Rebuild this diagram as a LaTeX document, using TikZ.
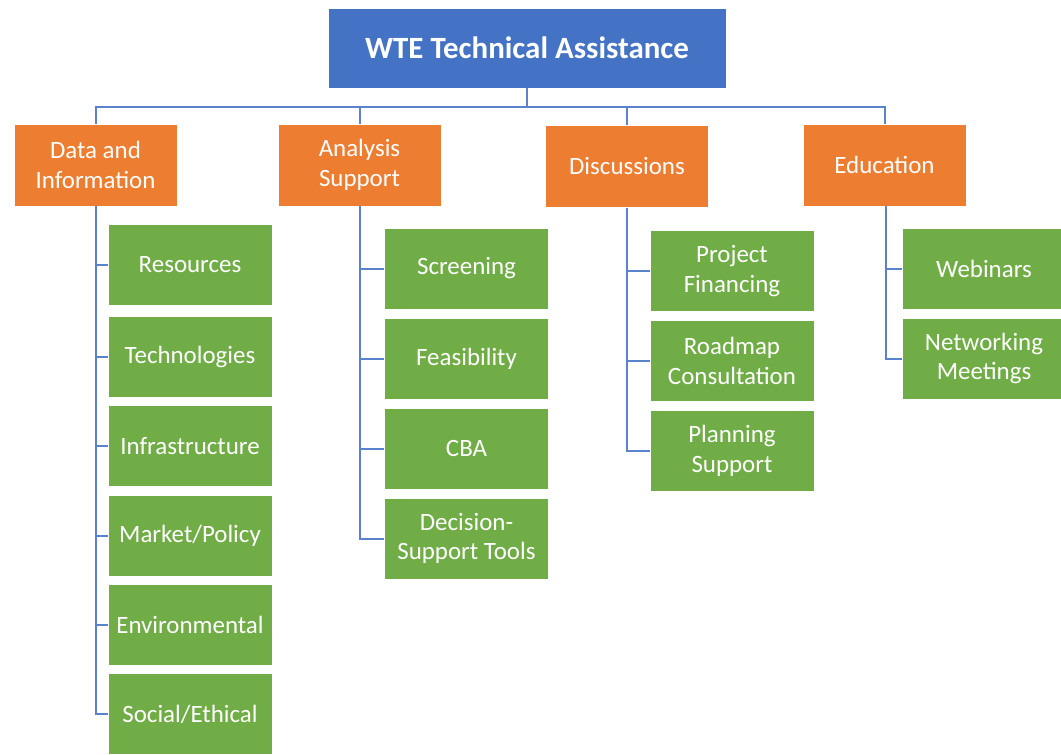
\documentclass[tikz,border=0pt]{standalone}
\usepackage{fontspec}
\setmainfont{Carlito}
\definecolor{topblue}{HTML}{4472C4}
\definecolor{orangebox}{HTML}{ED7D31}
\definecolor{greenbox}{HTML}{70AD47}
\definecolor{linkblue}{HTML}{5B82CC}
\begin{document}
\begin{tikzpicture}[x=0.75pt,y=-0.75pt,
  topbox/.style={fill=topblue,draw=white,line width=0.5pt,text=white,
    minimum width=298.5pt,minimum height=60pt,inner sep=0pt,
    font=\fontsize{23.2}{27}\selectfont\bfseries},
  catbox/.style={fill=orangebox,draw=white,line width=0.5pt,text=white,
    minimum width=122.25pt,minimum height=61.5pt,inner sep=0pt,align=center,
    font=\fontsize{18.7}{22}\selectfont},
  itembox/.style={fill=greenbox,draw=white,line width=0.5pt,text=white,
    minimum width=123pt,minimum height=60.75pt,inner sep=0pt,align=center,
    font=\fontsize{18.7}{22}\selectfont},
  link/.style={draw=linkblue,line width=1.5pt}]
\useasboundingbox (0,0) rectangle (1061,754);
\clip (0,0) rectangle (1061,754);

\node[topbox] (top) at (527,48) {WTE Technical Assistance};

\node[catbox] (data) at (95.5,165) {Data and\\Information};
\node[catbox] (anal) at (359.5,165) {Analysis\\Support};
\node[catbox] (disc) at (627,166.5) {Discussions};
\node[catbox] (edu) at (884.5,165) {Education};

\node[itembox] (res) at (190,264.5) {Resources};
\node[itembox] (tech) at (190,357) {Technologies};
\node[itembox] (infra) at (190,446) {Infrastructure};
\node[itembox] (mkt) at (190,535.5) {Market/Policy};
\node[itembox] (env) at (190,624.5) {Environmental};
\node[itembox] (soc) at (190,714) {Social/Ethical};

\node[itembox] (scr) at (466.5,268.5) {Screening};
\node[itembox] (feas) at (466.5,359) {Feasibility};
\node[itembox] (cba) at (466.5,448.5) {CBA};
\node[itembox] (dst) at (466.5,538.5) {Decision-\\Support Tools};

\node[itembox] (pf) at (732,271) {Project\\Financing};
\node[itembox] (road) at (732,361) {Roadmap\\Consultation};
\node[itembox] (plan) at (732,451) {Planning\\Support};

\node[itembox] (web) at (984,269) {Webinars};
\node[itembox] (net) at (984,358.5) {Networking\\Meetings};

\begin{scope}[on background layer/.style={}]
\foreach \c in {data,anal,disc,edu}
  \draw[link] (top.south) -- ++(0,19) -| (\c.north);

\foreach \c in {res,tech,infra,mkt,env,soc}
  \draw[link] (data.south) |- (\c.west);
\foreach \c in {scr,feas,cba,dst}
  \draw[link] (anal.south) |- (\c.west);
\foreach \c in {pf,road,plan}
  \draw[link] (disc.south) |- (\c.west);
\foreach \c in {web,net}
  \draw[link] ([xshift=1.1pt]edu.south) |- (\c.west);
\end{scope}
\end{tikzpicture}
\end{document}
